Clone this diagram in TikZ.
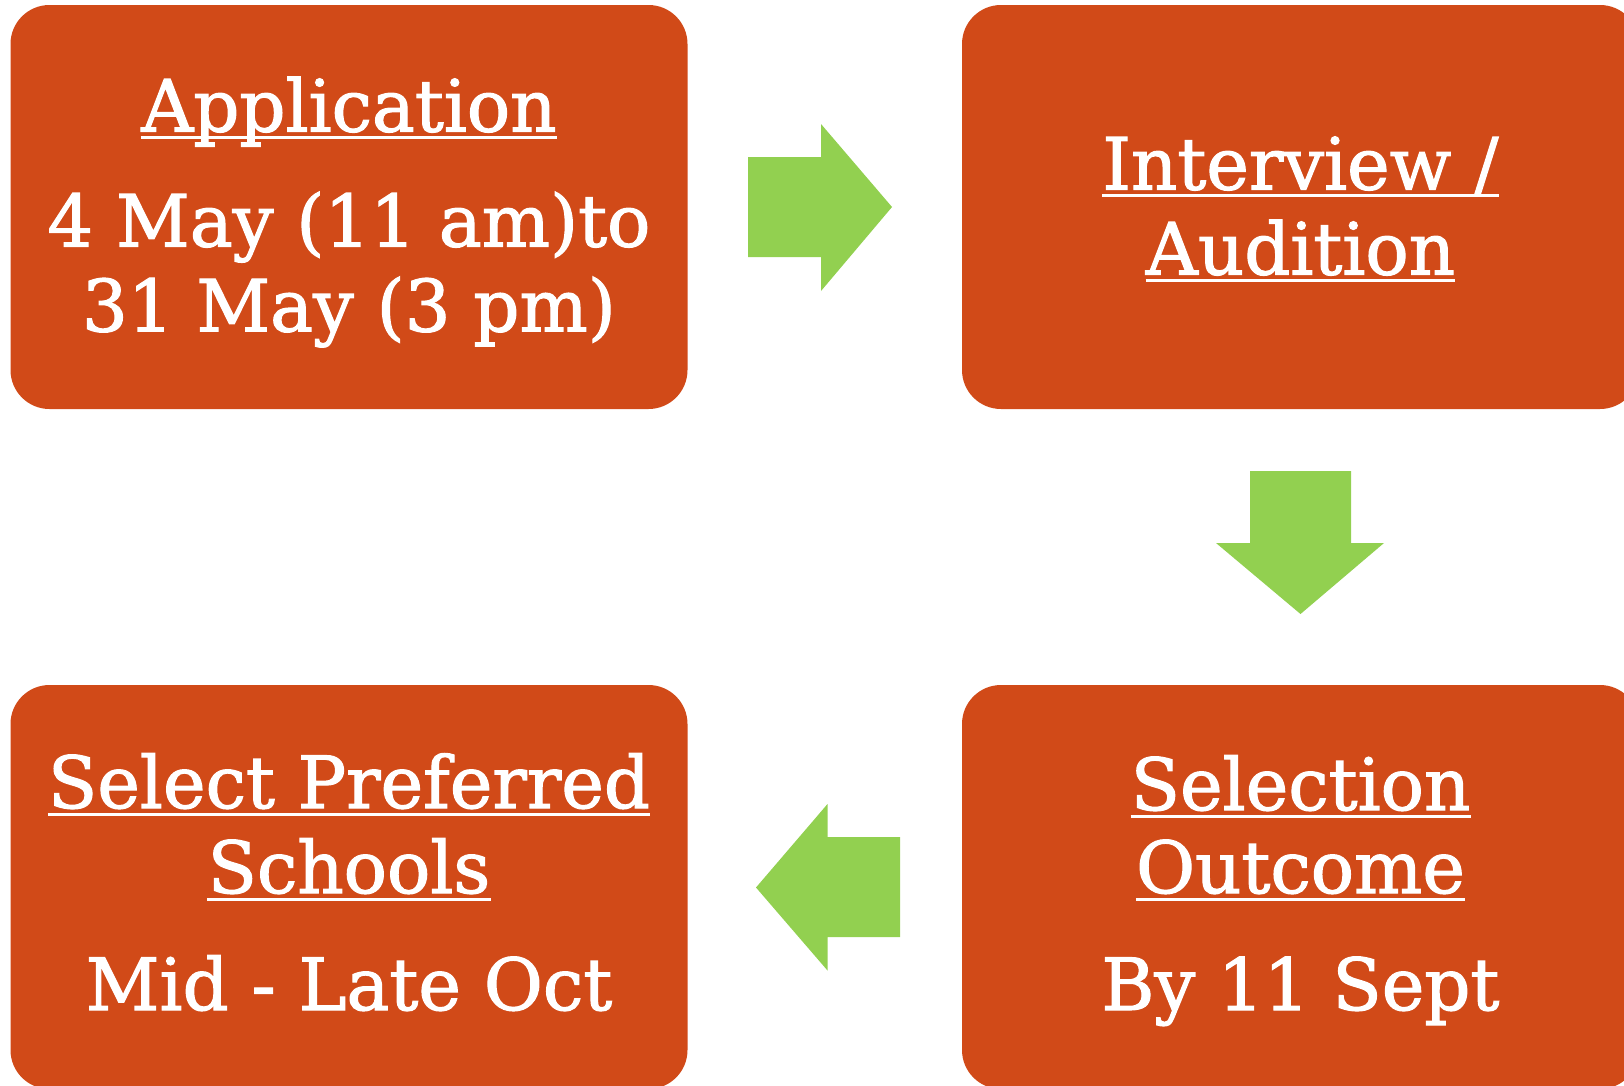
\documentclass[tikz,border=0pt]{standalone}
\usepackage{fontspec}
\setmainfont[FakeBold=1.6]{DejaVu Serif}
\definecolor{boxorange}{RGB}{209,74,24}
\definecolor{arrowgreen}{RGB}{146,208,80}
\tikzset{
  stagebox/.style={fill=boxorange, draw=none, rounded corners=39pt, minimum width=677pt, minimum height=404pt, inner sep=0pt},
  stagetext/.style={text=white, font=\fontsize{72}{72}\selectfont, inner sep=0pt, anchor=base},
  uline/.style={draw=white, line width=3pt},
  flowarrow/.style={fill=arrowgreen, draw=none}
}
\begin{document}
\begin{tikzpicture}[x=1pt,y=-1pt]
\useasboundingbox (0,0) rectangle (1624,1085);
\clip (0,0) rectangle (1624,1085);
\node[stagebox] (app) at (349,207) {};
\node[stagebox] (int) at (1300.5,207) {};
\node[stagebox] (sel) at (349,887) {};
\node[stagebox] (out) at (1300.5,887) {};

\node[stagetext] (t1) at (349,131.5) {Application};
\node[stagetext] (t2) at (349,246.5) {4 May (11 am)to};
\node[stagetext] (t3) at (349,331.4) {31 May (3 pm)};
\draw[uline] ([yshift=-6pt]t1.base west) -- ([yshift=-6pt]t1.base east);

\node[stagetext] (i1) at (1300.5,189.5) {Interview /};
\node[stagetext] (i2) at (1300.5,274.5) {Audition};
\draw[uline] ([yshift=-6pt]i1.base west) -- ([yshift=-6pt]i1.base east);
\draw[uline] ([yshift=-6pt]i2.base west) -- ([yshift=-6pt]i2.base east);

\node[stagetext] (s1) at (349,808) {Select Preferred};
\node[stagetext] (s2) at (349,893) {Schools};
\node[stagetext] (s3) at (349,1010) {Mid - Late Oct};
\draw[uline] ([yshift=-6pt]s1.base west) -- ([yshift=-6pt]s1.base east);
\draw[uline] ([yshift=-6pt]s2.base west) -- ([yshift=-6pt]s2.base east);

\node[stagetext] (o1) at (1300.5,810) {Selection};
\node[stagetext] (o2) at (1300.5,893) {Outcome};
\node[stagetext] (o3) at (1300.5,1010) {By 11 Sept};
\draw[uline] ([yshift=-6pt]o1.base west) -- ([yshift=-6pt]o1.base east);
\draw[uline] ([yshift=-6pt]o2.base west) -- ([yshift=-6pt]o2.base east);

\fill[flowarrow] (748,157) -- (821,157) -- (821,124) -- (892,207) -- (821,291) -- (821,257) -- (748,257) -- cycle;
\fill[flowarrow] (1250,471) -- (1351,471) -- (1351,543) -- (1384,543) -- (1300.5,614) -- (1216,543) -- (1250,543) -- cycle;
\fill[flowarrow] (900,837) -- (827.5,837) -- (827.5,804) -- (756,887.5) -- (827.5,970.5) -- (827.5,937) -- (900,937) -- cycle;
\end{tikzpicture}
\end{document}
